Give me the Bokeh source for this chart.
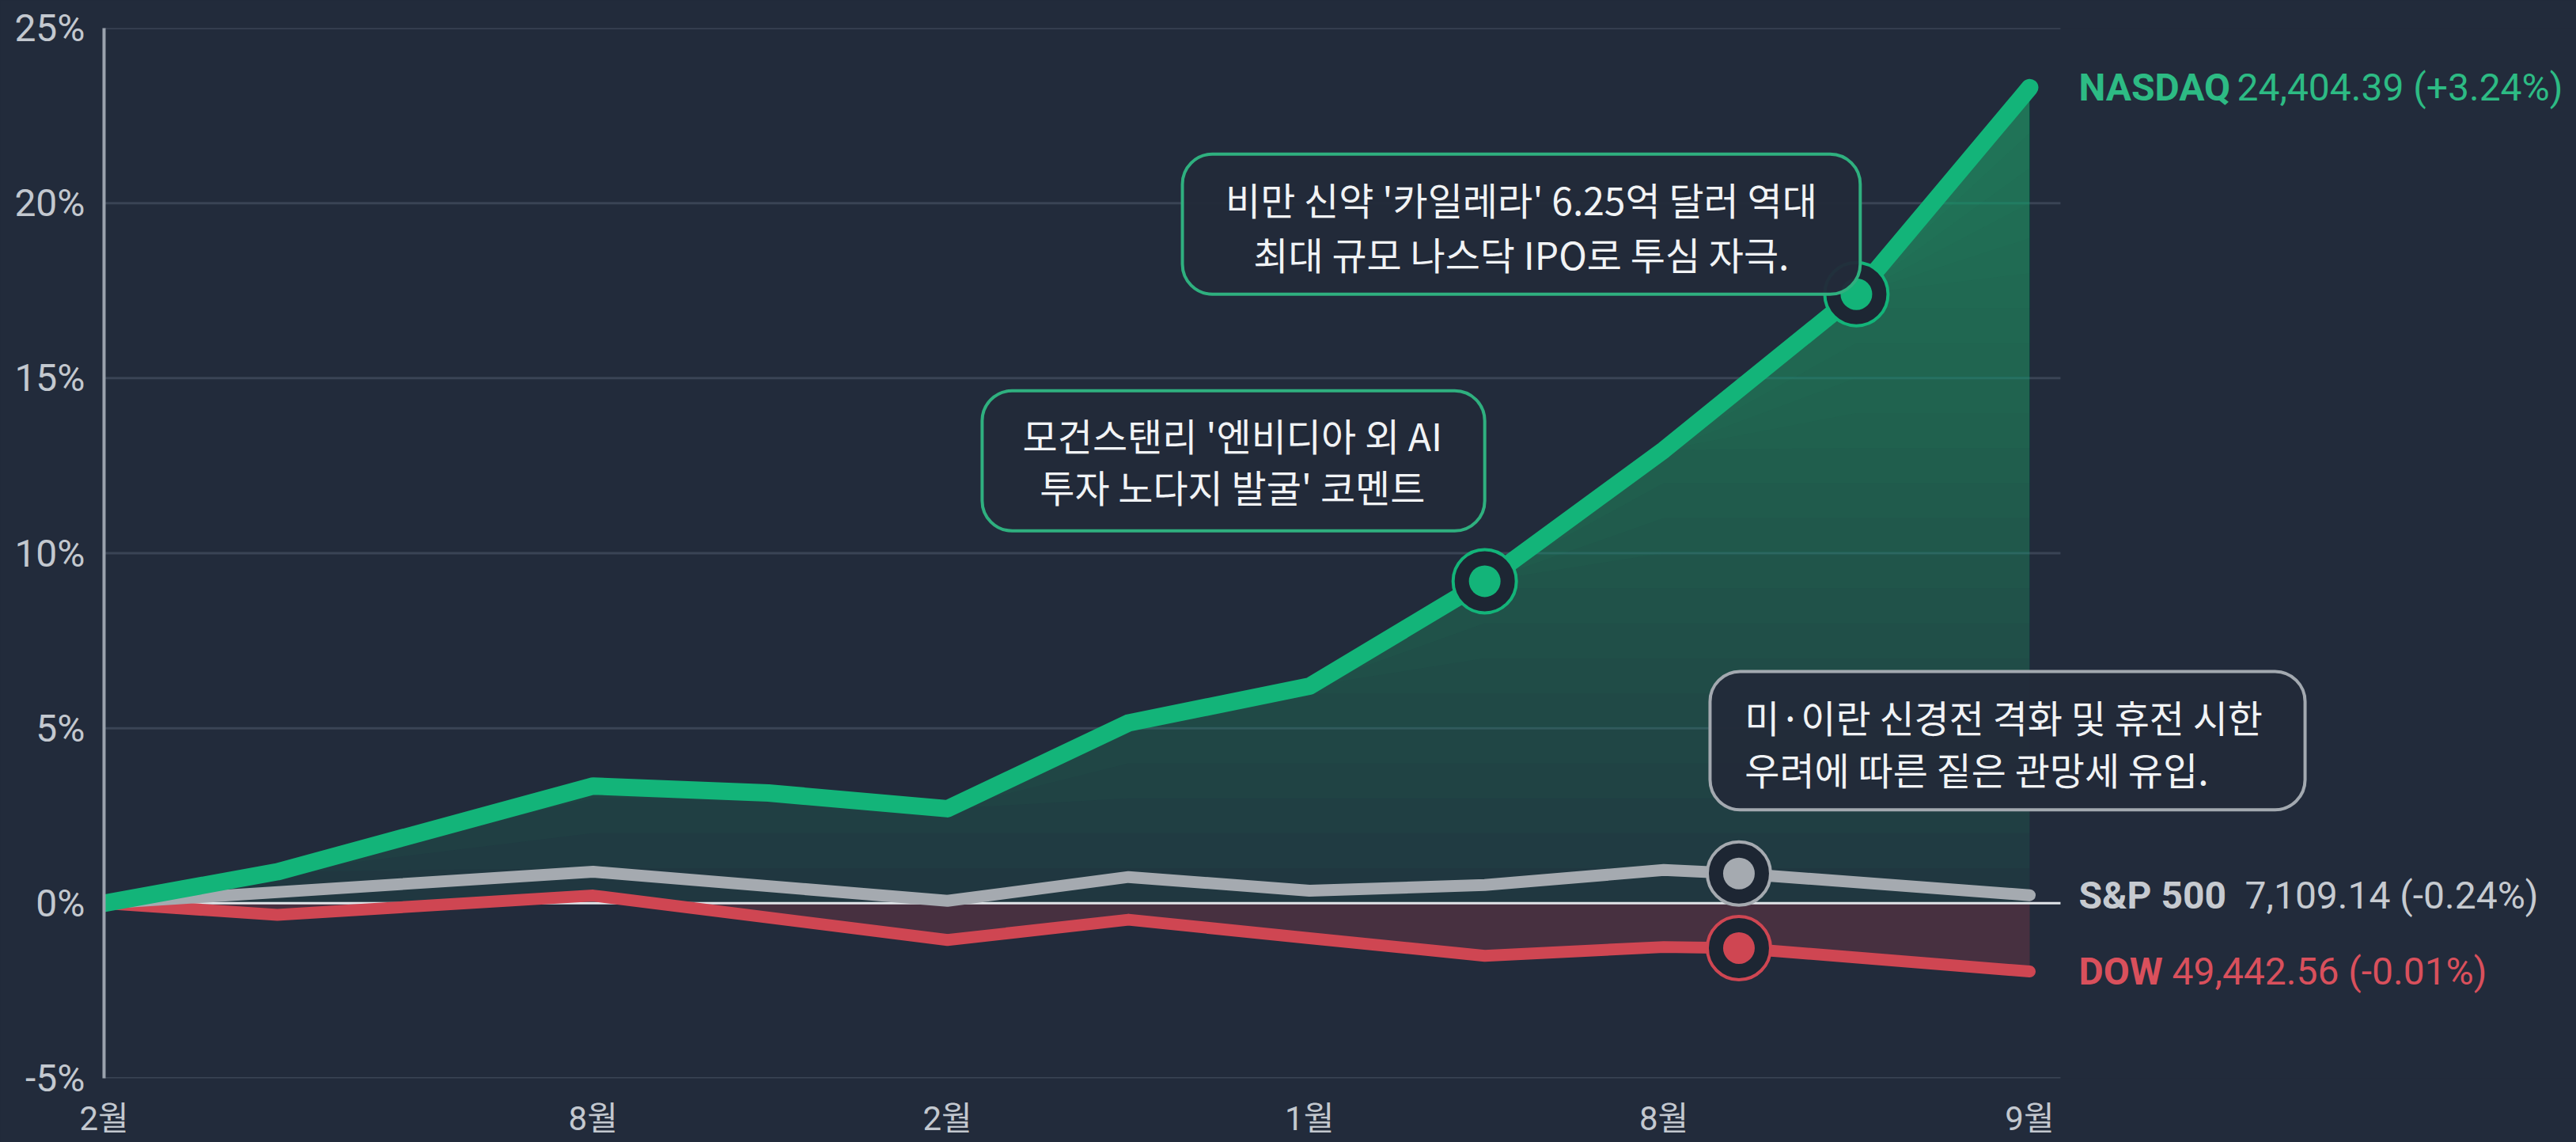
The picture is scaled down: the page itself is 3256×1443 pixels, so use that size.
import numpy as np
from bokeh.plotting import figure
from bokeh.models import Range1d, FixedTicker, PrintfTickFormatter, BoxAnnotation, Label
from bokeh.embed import file_html
from bokeh.resources import INLINE

# ---------------- data ----------------
x_tick_pos = [0, 254, 438, 626, 810, 1000]
x_tick_labels = ["2월", "8월", "2월", "1월", "8월", "9월"]
y_ticks = [-5, 0, 5, 10, 15, 20, 25]

nasdaq_x = [0, 90, 254, 345, 438, 532, 626, 717, 810, 910, 1000]
nasdaq_y = [0.0, 0.9, 3.35, 3.15, 2.7, 5.15, 6.2, 9.2, 12.95, 17.4, 23.3]

sp_x = [0, 254, 438, 532, 626, 717, 810, 849, 1000]
sp_y = [0.0, 0.9, 0.07, 0.75, 0.36, 0.52, 0.95, 0.85, 0.23]

dow_x = [0, 90, 254, 438, 532, 626, 717, 810, 849, 1000]
dow_y = [0.0, -0.33, 0.22, -1.05, -0.47, -1.0, -1.5, -1.25, -1.28, -1.95]

series_names = ["NASDAQ", "S&P 500", "DOW"]
series_values = ["24,404.39 (+3.24%)", "7,109.14 (-0.24%)", "49,442.56 (-0.01%)"]

ann_texts = [
    ["비만 신약 '카일레라' 6.25억 달러 역대", "최대 규모 나스닥 IPO로 투심 자극."],
    ["모건스탠리 '엔비디아 외 AI", "투자 노다지 발굴' 코멘트"],
    ["미·이란 신경전 격화 및 휴전 시한", "우려에 따른 짙은 관망세 유입."],
]
# which point each note marks: (series, index)
ann_points = [("nasdaq", 9), ("nasdaq", 7), ("sp", 7)]
dow_marker_index = 8

# ---------------- layout / style ----------------
W, H = 3256, 1443
BG = "#222b3b"
GRID = "#3a4455"
GREEN = "#13b479"
GRAY = "#a5aab0"
RED = "#cf4652"
GREEN_TXT = "#2dbb84"
GRAY_TXT = "#c6cad0"
RED_TXT = "#d9505c"
GRID_END = 1016

# box extents (left, right, top, bottom) and text anchors
ann_boxes = [(560, 912, 21.4, 17.4), (456, 717, 14.64, 10.64), (834, 1143, 6.62, 2.67)]
ann_text_x = [736, 586, 852]
ann_text_y = [(20.13, 18.57), (13.38, 11.93), (5.35, 3.84)]
ann_align = ["center", "center", "left"]
ann_colors = ["#2fb07f", "#2fb07f", "#a3a9b0"]

label_offsets_value = [262, 272, 180]

p = figure(width=W, height=H, output_backend="svg", toolbar_location=None,
           x_range=Range1d(0, 1283.9), y_range=Range1d(-5, 25),
           min_border_left=131, min_border_right=0, min_border_top=35, min_border_bottom=81,
           background_fill_color=BG, border_fill_color=BG, outline_line_color=None)
p.xgrid.grid_line_color = None
p.ygrid.grid_line_color = None

# y axis
p.yaxis.ticker = FixedTicker(ticks=y_ticks)
p.yaxis.formatter = PrintfTickFormatter(format="%d%%")
p.yaxis.axis_line_color = "#9aa2ad"
p.yaxis.axis_line_width = 4
p.yaxis.major_tick_line_color = None
p.yaxis.minor_tick_line_color = None
p.yaxis.major_tick_out = 0
p.yaxis.major_tick_in = 0
p.yaxis.major_label_text_font = "Roboto"
p.yaxis.major_label_text_font_size = "48px"
p.yaxis.major_label_text_color = "#c3c8cf"
p.yaxis.major_label_standoff = 24

# x axis
p.xaxis.ticker = FixedTicker(ticks=x_tick_pos)
p.xaxis.major_label_overrides = {t: l for t, l in zip(x_tick_pos, x_tick_labels)}
p.xaxis.axis_line_color = None
p.xaxis.major_tick_line_color = None
p.xaxis.minor_tick_line_color = None
p.xaxis.major_tick_out = 0
p.xaxis.major_tick_in = 0
p.xaxis.major_label_text_font = "Roboto, Noto Sans CJK KR"
p.xaxis.major_label_text_font_size = "42px"
p.xaxis.major_label_text_color = "#c3c8cf"
p.xaxis.major_label_standoff = 26

# grid lines (limited extent)
grid_levels = [t for t in y_ticks if t != 0]
p.segment(x0=[0] * len(grid_levels), x1=[GRID_END] * len(grid_levels),
          y0=grid_levels, y1=grid_levels, line_color=GRID, line_width=3)

# fills
ny = np.array(nasdaq_y)
p.varea(x=nasdaq_x, y1=np.zeros(len(ny)), y2=ny, fill_color=GREEN, fill_alpha=0.09)
for lvl in range(1, 24):
    p.varea(x=nasdaq_x, y1=np.minimum(ny, lvl), y2=ny, fill_color=GREEN, fill_alpha=0.031)
p.varea(x=dow_x, y1=np.zeros(len(dow_y)), y2=dow_y, fill_color=RED, fill_alpha=0.22)

# zero line
p.segment(x0=[0], x1=[GRID_END], y0=[0], y1=[0], line_color="#e2e6ea", line_width=3)

# lines
p.line(dow_x, dow_y, line_color=RED, line_width=15, line_join="round", line_cap="round")
p.line(sp_x, sp_y, line_color=GRAY, line_width=15, line_join="round", line_cap="round")
p.line(nasdaq_x, nasdaq_y, line_color=GREEN, line_width=22, line_join="round", line_cap="round")

# markers
series = {"nasdaq": (nasdaq_x, nasdaq_y, GREEN), "sp": (sp_x, sp_y, GRAY), "dow": (dow_x, dow_y, RED)}
marks = list(ann_points) + [("dow", dow_marker_index)]
for name, idx in marks:
    xs, ys, col = series[name]
    p.scatter([xs[idx]], [ys[idx]], size=80, fill_color="#1d2633", line_color=col, line_width=4)
    p.scatter([xs[idx]], [ys[idx]], size=40, fill_color=col, line_color=None)

# annotation boxes + text
for i, lines in enumerate(ann_texts):
    l, r, t, b = ann_boxes[i]
    p.add_layout(BoxAnnotation(left=l, right=r, top=t, bottom=b, fill_color="#222b39", fill_alpha=0.96,
                               line_color=ann_colors[i], line_alpha=1.0, line_width=4, border_radius=38))
for i, lines in enumerate(ann_texts):
    for j, txt in enumerate(lines):
        p.add_layout(Label(x=ann_text_x[i], y=ann_text_y[i][j], text=txt, text_align=ann_align[i],
                           text_baseline="middle", text_font="Noto Sans CJK KR", text_font_size="48px",
                           text_color="#f1f3f5"))

# end labels
ends = [(nasdaq_x[-1], nasdaq_y[-1], GREEN_TXT), (sp_x[-1], sp_y[-1], GRAY_TXT), (dow_x[-1], dow_y[-1], RED_TXT)]
for i, (ex, ey, col) in enumerate(ends):
    p.add_layout(Label(x=ex, y=ey, x_offset=62, text=series_names[i], text_align="left",
                       text_baseline="middle", text_font="Roboto", text_font_style="bold",
                       text_font_size="48px", text_color=col))
    p.add_layout(Label(x=ex, y=ey, x_offset=label_offsets_value[i], text=series_values[i], text_align="left",
                       text_baseline="middle", text_font="Roboto", text_font_size="48px", text_color=col))

html = file_html(p, INLINE)
html = html.replace("<body>", '<body style="margin:0;overflow:hidden;background-color:%s;">' % BG)
open("out.html", "w").write(html)
